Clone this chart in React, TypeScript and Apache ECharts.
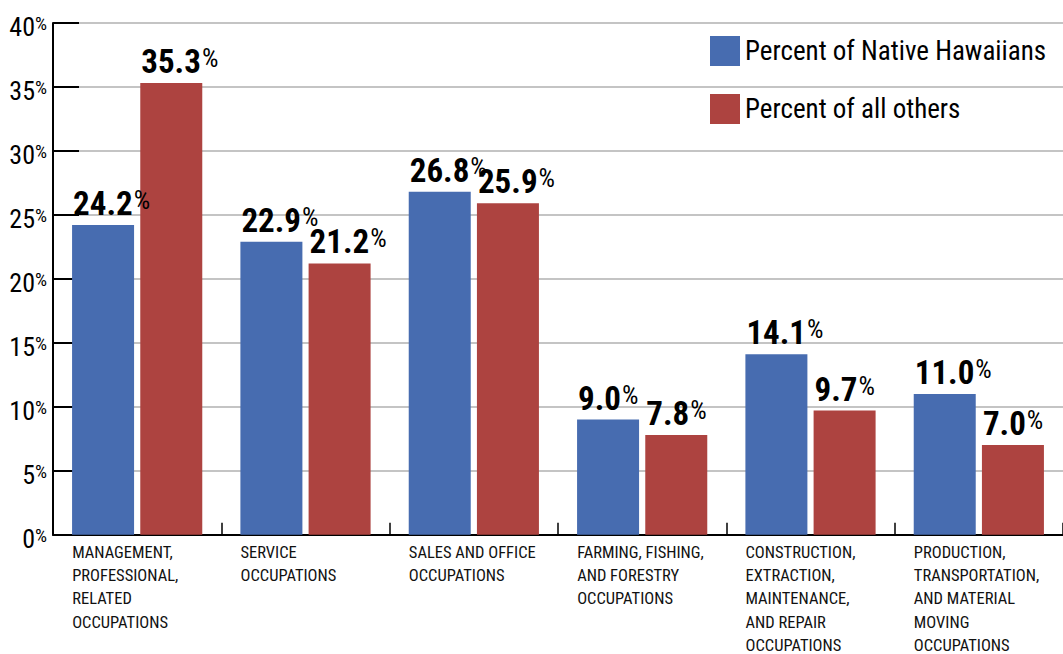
import React, { useEffect, useRef } from 'react';
import * as echarts from 'echarts';

const categories = [
  'MANAGEMENT,\nPROFESSIONAL,\nRELATED\nOCCUPATIONS',
  'SERVICE\nOCCUPATIONS',
  'SALES AND OFFICE\nOCCUPATIONS',
  'FARMING, FISHING,\nAND FORESTRY\nOCCUPATIONS',
  'CONSTRUCTION,\nEXTRACTION,\nMAINTENANCE,\nAND REPAIR\nOCCUPATIONS',
  'PRODUCTION,\nTRANSPORTATION,\nAND MATERIAL\nMOVING\nOCCUPATIONS',
];
const nativeHawaiians = [24.2, 22.9, 26.8, 9.0, 14.1, 11.0];
const allOthers = [35.3, 21.2, 25.9, 7.8, 9.7, 7.0];
const seriesNames = ['Percent of Native Hawaiians', 'Percent of all others'];
const yMin = 0;
const yMax = 40;
const yStep = 5;

const FONT = '"Roboto Condensed", "Open Sans Condensed", sans-serif';
const BLUE = '#476cb0';
const RED = '#ad4340';

export default function App() {
  const ref = useRef<HTMLDivElement>(null);
  useEffect(() => {
    if (!ref.current) return;
    const chart = echarts.init(ref.current, null, { renderer: 'svg' });
    const valueLabel = {
      show: true,
      position: [1, -5],
      align: 'left',
      verticalAlign: 'bottom',
      formatter: (p: any) => `{v|${Number(p.value).toFixed(1)}}{p|%}`,
      rich: {
        v: { fontFamily: FONT, fontWeight: 'bold', fontSize: 33, lineHeight: 33, color: '#000' },
        p: { fontFamily: FONT, fontWeight: 'normal', fontSize: 26, lineHeight: 15, color: '#000', verticalAlign: 'top', padding: [0, 0, 0, 1] },
      },
    };
    chart.setOption({
      animation: false,
      backgroundColor: '#fff',
      grid: { left: 53, right: -10, top: 23, bottom: 118, containLabel: false },
      legend: {
        orient: 'vertical',
        left: 710,
        top: 36,
        padding: 0,
        itemWidth: 30,
        itemHeight: 30,
        itemGap: 28,
        icon: 'rect',
        textStyle: { fontFamily: FONT, fontSize: 27, color: '#000' },
        data: seriesNames,
      },
      xAxis: {
        type: 'category',
        data: categories,
        axisLine: { lineStyle: { color: '#000', width: 2 } },
        axisTick: { show: true, inside: true, length: 12, lineStyle: { color: '#000', width: 1.5 } },
        axisLabel: {
          interval: 0,
          margin: 6,
          align: 'center',
          verticalAlign: 'top',
          formatter: (v: string) => v.split('\n').map((l) => `{c|${l}}`).join('\n'),
          rich: {
            c: { width: 130, align: 'left', fontFamily: FONT, fontSize: 16.5, lineHeight: 23.3, color: '#111' },
          },
        },
      },
      yAxis: {
        type: 'value',
        min: yMin,
        max: yMax,
        interval: yStep,
        axisLine: { show: true, lineStyle: { color: '#000', width: 2 } },
        axisTick: { show: true, inside: true, length: 26, lineStyle: { color: '#000', width: 2 } },
        splitLine: { show: true, lineStyle: { color: '#b0b0b0', width: 1.5 } },
        axisLabel: {
          margin: 6,
          padding: [8, 0, 0, 0],
          formatter: (v: number) => `{n|${v}}{p|%}`,
          rich: {
            n: { fontFamily: FONT, fontWeight: 'normal', fontSize: 26, lineHeight: 26, color: '#000' },
            p: { fontFamily: FONT, fontWeight: 'normal', fontSize: 19, lineHeight: 14, color: '#000', verticalAlign: 'top' },
          },
        },
      },
      series: [
        {
          name: seriesNames[0],
          type: 'bar',
          data: nativeHawaiians,
          barWidth: 62,
          barGap: '10%',
          itemStyle: { color: BLUE },
          label: valueLabel,
          z: 3,
        },
        {
          name: seriesNames[1],
          type: 'bar',
          data: allOthers,
          barWidth: 62,
          barGap: '10%',
          itemStyle: { color: RED },
          label: valueLabel,
          z: 3,
        },
      ],
    });
    return () => chart.dispose();
  }, []);
  return <div ref={ref} style={{ position: 'fixed', left: 0, top: 0, width: 1063, height: 654 }} />;
}
